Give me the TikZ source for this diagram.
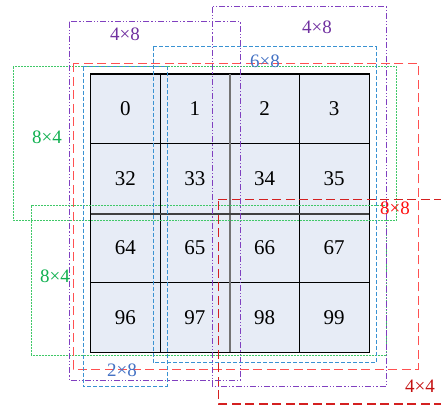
\documentclass[tikz,border=0pt]{standalone}
\usepackage{fontspec}
\setmainfont{Liberation Serif}
\definecolor{gridfill}{HTML}{E7ECF6}
\definecolor{purp}{HTML}{8040C0}
\definecolor{purptext}{HTML}{7030A0}
\definecolor{bluel}{HTML}{3A92D2}
\definecolor{bluetext}{HTML}{4472C4}
\definecolor{greenl}{HTML}{40C868}
\definecolor{greentext}{HTML}{10B050}
\definecolor{redlight}{HTML}{FF5050}
\definecolor{redtext}{HTML}{FF1010}
\definecolor{reddark}{HTML}{D42020}
\definecolor{reddarktext}{HTML}{C41010}
\begin{document}
\begin{tikzpicture}[x=1pt,y=-1pt,
  cellbox/.style={draw=black, fill=gridfill, line width=0.8pt,
    minimum width=69.6pt, minimum height=69.6pt, inner sep=0pt,
    font=\fontsize{21}{21}\selectfont},
  midline/.style={line width=#1},
  sizelabel/.style={inner sep=0pt, font=\fontsize{19}{19}\selectfont},
  purplebox/.style={draw=purp, line width=0.8pt,
    dash pattern=on 6pt off 2pt on 1.2pt off 2pt on 1.2pt off 2pt},
  bluebox/.style={draw=bluel, line width=0.9pt, dash pattern=on 4pt off 2pt},
  greenbox/.style={draw=greenl, line width=0.9pt, dash pattern=on 0.8pt off 0.7pt},
  redlightbox/.style={draw=redlight, line width=1.1pt, dash pattern=on 9pt off 4.5pt},
  reddarkbox/.style={draw=reddark, line width=1.1pt, dash pattern=on 9pt off 4.5pt},
]
\useasboundingbox (0,0) rectangle (441,405);

% 4x4 block of cells, numbered row-major in a 32-wide image
\foreach \r in {0,...,3}{
  \foreach \c in {0,...,3}{
    \pgfmathtruncatemacro{\val}{32*\r+\c}
    \node[cellbox] (cell-\r-\c) at ({90.5+69.6*\c+34.8},{74+69.6*\r+34.8}) {\val};
  }
}
% heavier centre lines and outer frame
\draw[draw=black!55, midline=2.4pt] (cell-0-1.north east) -- (cell-3-1.south east);
\draw[draw=black!75, midline=1.8pt] (cell-1-0.south west) -- (cell-1-3.south east);
\draw[draw=black, line width=1.2pt] (cell-0-0.north west) rectangle (cell-3-3.south east);

% window outlines
\draw[greenbox] (13.3,66.7) rectangle (396.7,220);
\draw[greenbox] (31,205.5) rectangle (386,355.3);
\draw[redlightbox] (73.3,63.3) rectangle (418.3,369.3);
\draw[reddarkbox] (218.3,199.3) -- (443,199.3);
\draw[reddarkbox] (443,404) -- (218.3,404) -- (218.3,199.3);
\draw[purplebox] (69.3,21.7) rectangle (240.3,380.3);
\draw[purplebox] (212.3,6.7) rectangle (386,386.7);
\draw[bluebox] (153.3,46.7) rectangle (376,362.8);
\draw[bluebox] (83.3,66.7) rectangle (167,386.7);

% size labels
\node[sizelabel, text=purptext] (lab-p1) at (125,34) {4×8};
\node[sizelabel, text=purptext] (lab-p2) at (317,27) {4×8};
\node[sizelabel, text=bluetext] (lab-b1) at (265,61) {6×8};
\node[sizelabel, text=bluetext] (lab-b2) at (122,370) {2×8};
\node[sizelabel, text=greentext] (lab-g1) at (47,137) {8×4};
\node[sizelabel, text=greentext] (lab-g2) at (55,276) {8×4};
\node[sizelabel, text=redtext] (lab-r1) at (395,208) {8×8};
\node[sizelabel, text=reddarktext] (lab-r2) at (420,386) {4×4};
\end{tikzpicture}
\end{document}
